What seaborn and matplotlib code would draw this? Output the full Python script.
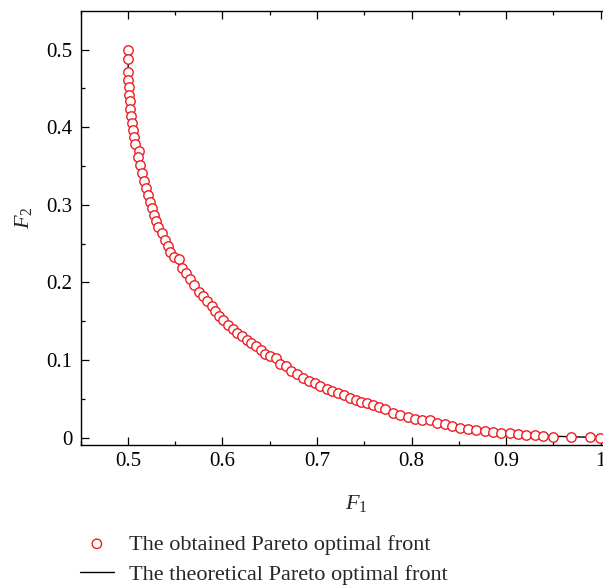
import numpy as np
import pandas as pd
import matplotlib
matplotlib.use("Agg")
import matplotlib.pyplot as plt
import seaborn as sns

# obtained Pareto front
obt_f1 = [0.5, 0.5, 0.5, 0.5004, 0.5007, 0.501, 0.5018, 0.5025, 0.5032, 0.5042,
          0.5053, 0.5063, 0.5078, 0.5116, 0.5106, 0.5131, 0.5152, 0.5169, 0.5195, 0.5212,
          0.523, 0.5251, 0.5272, 0.5293, 0.5317, 0.5358, 0.539, 0.5422, 0.545, 0.5487,
          0.5535, 0.5567, 0.5613, 0.5655, 0.5701, 0.5754, 0.5796, 0.5838, 0.5885, 0.592,
          0.5965, 0.6007, 0.606, 0.6107, 0.6156, 0.6202, 0.6255, 0.63, 0.6353, 0.6403,
          0.6448, 0.6508, 0.6564, 0.6614, 0.6677, 0.673, 0.679, 0.6853, 0.6917, 0.6977,
          0.7037, 0.7101, 0.7164, 0.7223, 0.7283, 0.7347, 0.741, 0.747, 0.753, 0.7593,
          0.7657, 0.7717, 0.7805, 0.7883, 0.7963, 0.8034, 0.8115, 0.8192, 0.827, 0.8351,
          0.8432, 0.8517, 0.8597, 0.8686, 0.8774, 0.8862, 0.895, 0.9038, 0.9126, 0.9215,
          0.9303, 0.939, 0.9496, 0.969, 0.9891, 0.9989]
obt_f2 = [0.5, 0.488, 0.471, 0.461, 0.452, 0.442, 0.4335, 0.423, 0.414, 0.405,
          0.396, 0.3875, 0.378, 0.3695, 0.3617, 0.351, 0.3404, 0.3308, 0.321, 0.3124,
          0.3038, 0.2953, 0.2867, 0.2794, 0.2716, 0.263, 0.2546, 0.2464, 0.2394, 0.233,
          0.2304, 0.218, 0.2118, 0.204, 0.1968, 0.188, 0.1818, 0.1753, 0.169, 0.1626,
          0.157, 0.1519, 0.1454, 0.1399, 0.1348, 0.1304, 0.1253, 0.122, 0.1176, 0.1125,
          0.1082, 0.1048, 0.1027, 0.0954, 0.0919, 0.0855, 0.0813, 0.077, 0.0727, 0.0697,
          0.0662, 0.0629, 0.0598, 0.0569, 0.0543, 0.0513, 0.0483, 0.0457, 0.044, 0.0415,
          0.0398, 0.0372, 0.0321, 0.029, 0.0264, 0.0244, 0.0226, 0.0226, 0.0193, 0.0171,
          0.0149, 0.0128, 0.0116, 0.0098, 0.0085, 0.0077, 0.0064, 0.0055, 0.0046, 0.0039,
          0.003, 0.002, 0.0013, 0.001, 0.0005, 0.0]

# theoretical Pareto front
th_f1 = [0.5, 0.5005, 0.502, 0.504, 0.507, 0.511, 0.516, 0.522, 0.529, 0.537,
         0.546, 0.556, 0.568, 0.582, 0.598, 0.616, 0.636, 0.66, 0.686, 0.715,
         0.747, 0.782, 0.82, 0.86, 0.9, 0.94, 0.97, 1.0]
th_f2 = [0.5, 0.46, 0.434, 0.412, 0.384, 0.358, 0.335, 0.308, 0.281, 0.256,
         0.237, 0.219, 0.2, 0.178, 0.155, 0.134, 0.117, 0.0965, 0.0765, 0.0605,
         0.0457, 0.0315, 0.021, 0.0116, 0.006, 0.002, 0.001, 0.0]

df_obt = pd.DataFrame({"F1": obt_f1, "F2": obt_f2})
df_th = pd.DataFrame({"F1": th_f1, "F2": th_f2})

sns.set_style("ticks")
plt.rcParams["font.family"] = ["Liberation Serif", "DejaVu Serif"]
plt.rcParams["mathtext.fontset"] = "custom"
plt.rcParams["mathtext.rm"] = "Liberation Serif"
plt.rcParams["mathtext.it"] = "Liberation Serif:italic"

fig = plt.figure(figsize=(6.03, 5.85), dpi=100)
ax = fig.add_axes([0.1338, 0.2388, 0.9405, 0.7429])

sns.lineplot(data=df_th, x="F1", y="F2", sort=False, estimator=None, color="black",
             linewidth=1.0, ax=ax, label="The theoretical Pareto optimal front", zorder=1)
sns.scatterplot(data=df_obt, x="F1", y="F2", marker="o", s=46, color="#ee1c24",
                facecolors="white", edgecolor="#ee1c24", linewidth=1.0, ax=ax,
                label="The obtained Pareto optimal front", zorder=2)

ax.set_xlim(0.45, 1.05)
ax.set_ylim(-0.01, 0.55)
ax.set_xticks([0.5, 0.6, 0.7, 0.8, 0.9, 1.0])
ax.set_xticklabels(["0.5", "0.6", "0.7", "0.8", "0.9", "1"])
ax.set_yticks([0, 0.1, 0.2, 0.3, 0.4, 0.5])
ax.set_yticklabels(["0", "0.1", "0.2", "0.3", "0.4", "0.5"])
ax.set_xticks(np.arange(0.45, 1.051, 0.1), minor=True)
ax.set_yticks([0.05, 0.15, 0.25, 0.35, 0.45], minor=True)
ax.tick_params(which="both", direction="in", top=True, right=True, width=0.9,
               labelsize=15, colors="black")
ax.tick_params(axis="x", which="major", length=5.5, pad=5)
ax.tick_params(axis="y", which="major", length=5.5, pad=6)
ax.tick_params(which="minor", length=3)
for sp in ax.spines.values():
    sp.set_linewidth(1.0)
    sp.set_color("black")

ax.set_xlabel("$F_1$", fontsize=16, va="center")
ax.set_ylabel("$F_2$", fontsize=16, va="center")
ax.xaxis.set_label_coords(0.4855, -0.133)
ax.yaxis.set_label_coords(-0.1, 0.523)

h, l = ax.get_legend_handles_labels()
leg = ax.legend([h[1], h[0]], [l[1], l[0]], loc="upper left", bbox_to_anchor=(0.133, 0.087),
                bbox_transform=fig.transFigure, frameon=False, fontsize=16,
                handlelength=1.5, handletextpad=0.7, labelspacing=0.42, borderpad=0,
                borderaxespad=0)
leg.legend_handles[0].set_facecolor("none")

fig.savefig("out.png", dpi=100)
plt.close()
